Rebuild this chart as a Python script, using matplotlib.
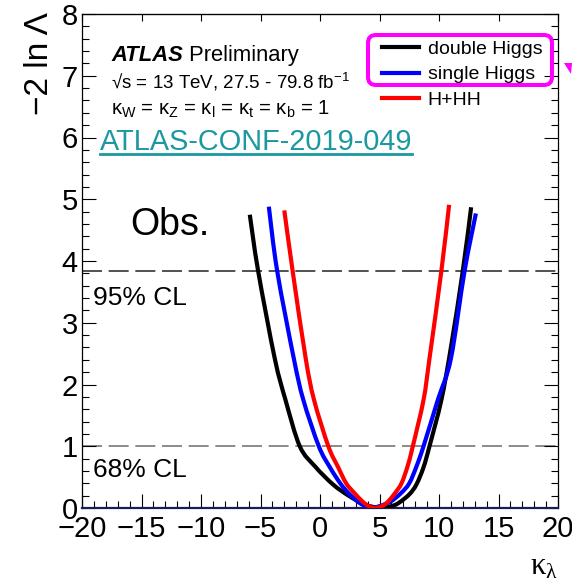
import matplotlib
matplotlib.use("Agg")
import matplotlib.pyplot as plt
from matplotlib.patches import FancyBboxPatch, Polygon, PathPatch
from matplotlib.path import Path
from matplotlib.ticker import MultipleLocator, NullLocator
from matplotlib.lines import Line2D

plt.rcParams['font.family'] = ['Liberation Sans', 'DejaVu Sans']
plt.rcParams['mathtext.fontset'] = 'custom'
plt.rcParams['mathtext.rm'] = 'Liberation Serif'
plt.rcParams['mathtext.it'] = 'Liberation Sans:italic'
plt.rcParams['mathtext.bf'] = 'Liberation Sans:bold'
plt.rcParams['axes.unicode_minus'] = True

# Observed likelihood scans, -2 ln Lambda versus kappa_lambda
kl_double = [-5.9, -5.2, -3.8, -2.9, -1.7, -0.4, 1.1, 2.4, 3.5, 4.3, 5.2, 6.0,
             6.6, 7.5, 8.1, 8.7, 9.2, 10.2, 11.0, 12.0, 12.7]
nll_double = [4.75, 3.84, 2.42, 1.75, 1.00, 0.67, 0.38, 0.20, 0.08, 0.025, 0.00, 0.03,
              0.08, 0.22, 0.38, 0.66, 1.00, 1.75, 2.60, 3.84, 4.87]

kl_single = [-4.3, -3.6, -2.2, -1.4, -0.1, 0.8, 1.7, 2.4, 3.2, 3.8, 4.3, 5.0,
             5.9, 6.8, 7.5, 8.1, 8.7, 9.9, 11.0, 12.15, 13.1]
nll_single = [4.88, 3.84, 2.42, 1.75, 1.00, 0.67, 0.40, 0.24, 0.10, 0.03, 0.00, 0.03,
              0.10, 0.24, 0.40, 0.67, 1.00, 1.75, 2.42, 3.84, 4.77]

kl_comb = [-3.0, -2.3, -1.2, -0.5, 0.7, 1.5, 2.2, 2.9, 3.6, 4.1, 4.6, 5.2,
           5.7, 6.3, 6.85, 7.35, 7.8, 8.7, 9.2, 10.2, 10.85]
nll_comb = [4.82, 3.84, 2.42, 1.75, 1.00, 0.67, 0.40, 0.24, 0.10, 0.03, 0.00, 0.03,
            0.10, 0.24, 0.40, 0.67, 1.00, 1.75, 2.42, 3.84, 4.91]

series_labels = ['double Higgs', 'single Higgs', 'H+HH']
series_colors = ['#000000', '#0000ff', '#ff0000']

cl_levels = [3.84, 1.0]
cl_labels = ['95% CL', '68% CL']
cl_colors = ['#333333', '#777777']

x_range = (-20, 20)
y_range = (0, 8)


def smooth_path(xs, ys):
    """Catmull-Rom curve through the scan points, as cubic Bezier segments."""
    pts = list(zip(xs, ys))
    ext = [pts[0]] + pts + [pts[-1]]
    verts = [pts[0]]
    codes = [Path.MOVETO]
    for i in range(1, len(ext) - 2):
        p0, p1, p2, p3 = ext[i - 1], ext[i], ext[i + 1], ext[i + 2]
        c1 = (p1[0] + (p2[0] - p0[0]) / 6, p1[1] + (p2[1] - p0[1]) / 6)
        c2 = (p2[0] - (p3[0] - p1[0]) / 6, p2[1] - (p3[1] - p1[1]) / 6)
        verts += [c1, c2, p2]
        codes += [Path.CURVE4] * 3
    return Path(verts, codes)


fig = plt.figure(figsize=(5.72, 5.84), dpi=100)
ax = fig.add_axes([82 / 572, 76 / 584, 476 / 572, 494 / 584])

# confidence-level reference lines
for lvl, col in zip(cl_levels, cl_colors):
    ax.axhline(lvl, color=col, lw=1.2, dashes=(12, 4), zorder=1)

handles = []
for kx, ky, lab, col in zip([kl_double, kl_single, kl_comb],
                            [nll_double, nll_single, nll_comb],
                            series_labels, series_colors):
    ax.add_patch(PathPatch(smooth_path(kx, ky), fill=False, edgecolor=col,
                           lw=3.0, capstyle='butt', joinstyle='round',
                           zorder=3))
    handles.append(Line2D([], [], color=col, lw=3.0, label=lab))

ax.set_xlim(*x_range)
ax.set_ylim(*y_range)

ax.xaxis.set_major_locator(MultipleLocator(5))
ax.xaxis.set_minor_locator(MultipleLocator(1))
ax.yaxis.set_major_locator(MultipleLocator(1))
ax.yaxis.set_minor_locator(MultipleLocator(0.2))
ax.tick_params(which='both', direction='in', left=True, right=True,
               bottom=True, top=False, width=0.8)
ax.tick_params(which='major', length=10, labelsize=21)
ax.tick_params(which='minor', length=5)
ax.tick_params(axis='y', pad=3)
ax.tick_params(axis='x', pad=5)

top = ax.secondary_xaxis('top')
top.xaxis.set_major_locator(MultipleLocator(5))
top.xaxis.set_minor_locator(NullLocator())
top.tick_params(direction='in', length=5, width=0.8, labeltop=False)

for s in ax.spines.values():
    s.set_linewidth(0.9)
ax.spines['bottom'].set_color('#1c1c5a')
ax.spines['bottom'].set_linewidth(1.6)

ax.set_ylabel('\u22122 ln Λ', fontsize=24, ha='right')
ax.yaxis.set_label_coords(-0.056, 1.003)
ax.set_xlabel(r'$\mathrm{κ_{λ}}$', fontsize=22, loc='right', labelpad=6)

# labels
atlas = ax.text(0.061, 0.9055, 'ATLAS', transform=ax.transAxes, fontsize=15.8,
                fontweight='bold', fontstyle='italic', va='baseline')
ax.annotate(' Preliminary', xy=(1, 0), xycoords=atlas, fontsize=15.8,
            va='bottom', ha='left')
ax.text(0.061, 0.8496, r'√s = 13 TeV, 27.5 - 79.8 fb$^{\mathregular{-1}}$',
        transform=ax.transAxes, fontsize=13.5, va='baseline')
ax.text(0.061, 0.7955,
        r'κ$_{\mathregular{W}}$ = κ$_{\mathregular{Z}}$ = κ$_{\mathregular{l}}$'
        r' = κ$_{\mathregular{t}}$ = κ$_{\mathregular{b}}$ = 1',
        transform=ax.transAxes, fontsize=14.6, va='baseline')
conf = ax.text(0.0378, 0.7247, 'ATLAS-CONF-2019-049', transform=ax.transAxes,
               fontsize=20.8, color='#1b98a0', va='baseline')
ax.text(0.1008, 0.5526, 'Obs.', transform=ax.transAxes, fontsize=27,
        va='baseline')
for lvl, lab, yb in zip(cl_levels, cl_labels, [3.28, 0.50]):
    ax.text(-19.08, yb, lab, fontsize=19, va='baseline')

leg = ax.legend(handles=handles, loc='upper left',
                bbox_to_anchor=(382 / 572, 1 - 40 / 584),
                bbox_transform=fig.transFigure, frameon=False, fontsize=14,
                handlelength=1.9, handletextpad=0.45, labelspacing=0.42,
                borderpad=0, borderaxespad=0)

# underline for the conference note reference
fig.canvas.draw()
bb = conf.get_window_extent().transformed(fig.transFigure.inverted())
y_ul = 1 - 154 / 584
fig.add_artist(Line2D([bb.x0, bb.x1], [y_ul, y_ul], color='#1b98a0', lw=2.0,
                      transform=fig.transFigure))

# highlight box around the first two legend entries
fig.add_artist(FancyBboxPatch((3.68, 4.99), 1.84, 0.50,
                              boxstyle='round,pad=0,rounding_size=0.08',
                              transform=fig.dpi_scale_trans, fill=False,
                              edgecolor='#ff00ff', lw=2.9))
fig.add_artist(Polygon([(5.64, 5.21), (5.72, 5.21), (5.71, 5.10)], closed=True,
                       transform=fig.dpi_scale_trans, color='#ff00ff', lw=0))

fig.savefig('out.png', dpi=100)
